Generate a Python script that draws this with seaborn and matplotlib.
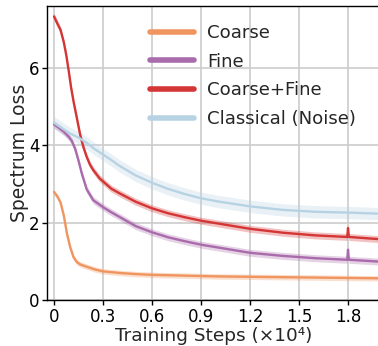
import numpy as np
import pandas as pd
import matplotlib
matplotlib.use("Agg")
import matplotlib.pyplot as plt
import seaborn as sns
from matplotlib.lines import Line2D

# Training steps in units of 1e4
coarse_x = [0, 0.02, 0.04, 0.06, 0.08, 0.1, 0.12, 0.14, 0.16, 0.2, 0.25, 0.3, 0.4, 0.5, 0.6,
            0.8, 1.0, 1.2, 1.4, 1.6, 1.8, 2.0]
coarse_y = [2.79, 2.68, 2.52, 2.18, 1.70, 1.35, 1.10, 0.98, 0.92, 0.86, 0.79, 0.74, 0.70, 0.67,
            0.65, 0.63, 0.61, 0.60, 0.59, 0.58, 0.57, 0.56]

fine_x = [0, 0.03, 0.06, 0.09, 0.11, 0.13, 0.15, 0.17, 0.2, 0.24, 0.3, 0.35, 0.4, 0.5, 0.6, 0.7,
          0.8, 0.9, 1.0, 1.2, 1.4, 1.6, 1.795, 1.8, 1.805, 2.0]
fine_y = [4.54, 4.45, 4.35, 4.22, 4.10, 3.90, 3.60, 3.27, 2.86, 2.58, 2.40, 2.27, 2.15, 1.91,
          1.75, 1.62, 1.52, 1.43, 1.36, 1.22, 1.14, 1.08, 1.04, 1.30, 1.04, 0.99]

both_x = [0, 0.02, 0.04, 0.06, 0.075, 0.09, 0.105, 0.12, 0.14, 0.16, 0.18, 0.2, 0.22, 0.24,
          0.28, 0.35, 0.4, 0.5, 0.6, 0.7, 0.8, 0.9, 1.0, 1.2, 1.4, 1.6, 1.795, 1.8, 1.805, 2.0]
both_y = [7.33, 7.15, 6.98, 6.66, 6.33, 5.92, 5.48, 5.12, 4.70, 4.27, 3.95, 3.70, 3.50, 3.36,
          3.14, 2.88, 2.76, 2.54, 2.37, 2.24, 2.14, 2.05, 1.98, 1.84, 1.74, 1.67, 1.63, 1.86,
          1.63, 1.57]

noise_x = [0, 0.05, 0.1, 0.15, 0.2, 0.25, 0.3, 0.35, 0.4, 0.5, 0.6, 0.7, 0.8, 0.9, 1.0, 1.2,
           1.4, 1.6, 1.8, 2.0]
noise_y = [4.58, 4.44, 4.30, 4.20, 4.06, 3.90, 3.76, 3.62, 3.47, 3.22, 3.03, 2.87, 2.74, 2.63,
           2.55, 2.42, 2.33, 2.28, 2.26, 2.23]

# Run-to-run spread (half-width of the shaded band)
coarse_spread = 0.07
fine_spread = 0.09
both_spread = 0.09
noise_spread = 0.16

labels = ["Coarse", "Fine", "Coarse+Fine", "Classical (Noise)"]
colors = ["#F0955F", "#A96BAC", "#D43535", "#B7D3E3"]
x_ticks = [0, 0.3, 0.6, 0.9, 1.2, 1.5, 1.8]
x_tick_labels = ["0", "0.3", "0.6", "0.9", "1.2", "1.5", "1.8"]
y_ticks = [0, 2, 4, 6]
y_tick_labels = ["0", "2", "4", "6"]

series = [(coarse_x, coarse_y, coarse_spread),
          (fine_x, fine_y, fine_spread),
          (both_x, both_y, both_spread),
          (noise_x, noise_y, noise_spread)]

frames = []
for name, (xs, ys, _) in zip(labels, series):
    frames.append(pd.DataFrame({"step": xs, "loss": ys, "method": name}))
df = pd.concat(frames, ignore_index=True)

sns.set_style("whitegrid", {"axes.edgecolor": "black", "grid.color": "#cccccc",
                            "xtick.bottom": True, "ytick.left": True})
plt.rcParams["font.family"] = ["DejaVu Sans"]

W, H = 378, 346
fig = plt.figure(figsize=(W / 100, H / 100), dpi=100)
ax_left, ax_right, ax_top, ax_bottom = 47, 380.7, 6, 300
ax = fig.add_axes([ax_left / W, 1 - ax_bottom / H, (ax_right - ax_left) / W, (ax_bottom - ax_top) / H])

for i in [3, 0, 1, 2]:
    xs, ys, sp = series[i]
    xs_a = np.asarray(xs)
    ys_a = np.asarray(ys)
    ax.fill_between(xs_a, ys_a - sp, ys_a + sp, color=colors[i], alpha=0.3, lw=0, zorder=2)

sns.lineplot(data=df, x="step", y="loss", hue="method", hue_order=labels,
             palette=colors, linewidth=1.7, legend=False, ax=ax, zorder=3,
             estimator=None, sort=True)

ax.set_xlim(-0.043, 2.0)
ax.set_ylim(0, 7.6)
ax.set_xticks(x_ticks)
ax.set_xticklabels(x_tick_labels)
ax.set_yticks(y_ticks)
ax.set_yticklabels(y_tick_labels)
ax.tick_params(axis="both", labelsize=12, length=3.5, width=1, color="black", pad=2, labelcolor="black")
ax.grid(True, color="#cccccc", linewidth=1.2)
for s in ax.spines.values():
    s.set_color("black")
    s.set_linewidth(1.0)
ax.spines["right"].set_visible(False)

ax.set_xlabel("Training Steps (×10⁴)", fontsize=13.3, labelpad=1)
ax.set_ylabel("Spectrum Loss", fontsize=13.5, labelpad=0)

handles = [Line2D([0], [0], color=c, lw=4) for c in colors]
ax.legend(handles, labels, loc="upper left", bbox_to_anchor=(143 / W, 1 - 17 / H),
          bbox_transform=fig.transFigure, frameon=False, fontsize=13.1,
          handlelength=2.4, handletextpad=0.72, labelspacing=0.58, borderaxespad=0)

fig.savefig("out.png", dpi=100)
